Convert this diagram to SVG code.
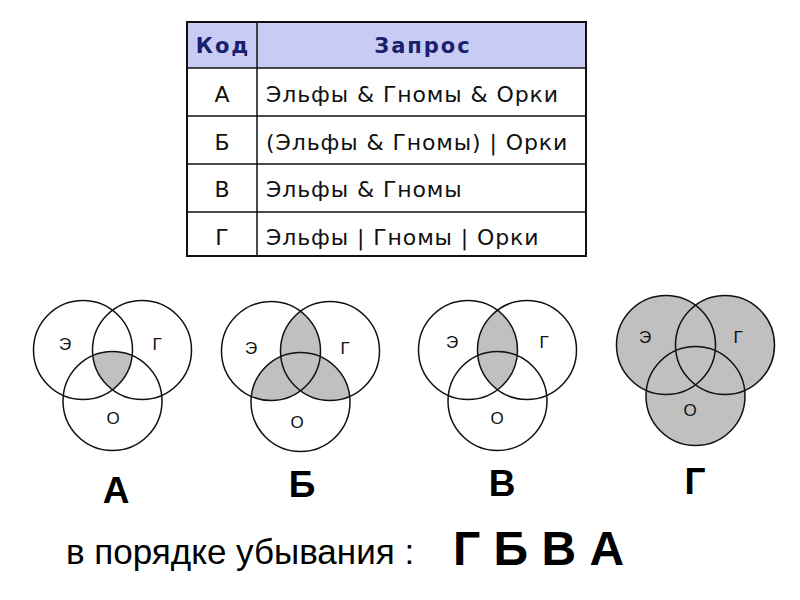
<svg xmlns="http://www.w3.org/2000/svg" width="800" height="600" viewBox="0 0 800 600">
<style>
.hdr{font-family:"DejaVu Sans",Verdana,sans-serif;font-weight:bold;font-size:21px;letter-spacing:2px;fill:#1a1f6e;text-anchor:middle}
.cell{font-family:"DejaVu Sans",Verdana,sans-serif;font-size:22px;letter-spacing:0.9px;fill:#111}
.code{text-anchor:middle;letter-spacing:0}
.grid{stroke:#111;stroke-width:1.5;fill:none}
.ring{fill:none;stroke:#111;stroke-width:1.5}
.shade{fill:#c0c0c0;stroke:none}
.vl{font-family:"Liberation Sans",Arial,sans-serif;font-size:17px;fill:#111;text-anchor:middle}
.big{font-family:"Liberation Sans",Arial,sans-serif;font-weight:bold;font-size:37px;fill:#000;text-anchor:middle}
.foot{font-family:"Liberation Sans",Arial,sans-serif;font-size:35px;fill:#000}
.footb{font-family:"Liberation Sans",Arial,sans-serif;font-weight:bold;font-size:48px;fill:#000}
</style>
<defs>
<clipPath id="cE"><circle cx="0" cy="0" r="49.5"/></clipPath>
<clipPath id="cG"><circle cx="59" cy="0" r="49.5"/></clipPath>
<circle id="rE" cx="0" cy="0" r="49.5"/>
<circle id="rG" cx="59" cy="0" r="49.5"/>
<circle id="rO" cx="29.5" cy="51" r="49.5"/>
</defs>

<g id="table">
<rect x="187" y="22" width="399" height="46" fill="#c8ccf5"/>
<rect x="187" y="22" width="399" height="234" fill="none" stroke="#111" stroke-width="2"/>
<path class="grid" d="M257 22V256M187 68H586M187 116H586M187 164H586M187 212H586"/>
<text class="hdr" x="223" y="53">Код</text>
<text class="hdr" x="423" y="53">Запрос</text>
<text class="cell code" x="222" y="102">А</text>
<text class="cell" x="266" y="102">Эльфы &amp; Гномы &amp; Орки</text>
<text class="cell code" x="222" y="150">Б</text>
<text class="cell" x="266" y="150">(Эльфы &amp; Гномы) | Орки</text>
<text class="cell code" x="222" y="197">В</text>
<text class="cell" x="266" y="197">Эльфы &amp; Гномы</text>
<text class="cell code" x="222" y="245">Г</text>
<text class="cell" x="266" y="245">Эльфы | Гномы | Орки</text>
</g>

<g id="venn-A" transform="translate(83,350)">
<g clip-path="url(#cE)"><g clip-path="url(#cG)"><use href="#rO" class="shade"/></g></g>
<use href="#rE" class="ring"/><use href="#rG" class="ring"/><use href="#rO" class="ring"/>
<text class="vl" x="-18" y="0">Э</text>
<text class="vl" x="74" y="0">Г</text>
<text class="vl" x="30" y="74">О</text>
</g>

<g id="venn-B" transform="translate(271,351)">
<g clip-path="url(#cE)"><use href="#rG" class="shade"/><use href="#rO" class="shade"/></g>
<g clip-path="url(#cG)"><use href="#rO" class="shade"/></g>
<use href="#rE" class="ring"/><use href="#rG" class="ring"/><use href="#rO" class="ring"/>
<text class="vl" x="-20" y="3">Э</text>
<text class="vl" x="74" y="3">Г</text>
<text class="vl" x="26" y="77">О</text>
</g>

<g id="venn-V" transform="translate(468,350)">
<g clip-path="url(#cE)"><use href="#rG" class="shade"/></g>
<use href="#rE" class="ring"/><use href="#rG" class="ring"/><use href="#rO" class="ring"/>
<text class="vl" x="-16" y="-2">Э</text>
<text class="vl" x="76" y="-2">Г</text>
<text class="vl" x="29" y="74">О</text>
</g>

<g id="venn-G" transform="translate(666,345)">
<use href="#rE" class="shade"/><use href="#rG" class="shade"/><use href="#rO" class="shade"/>
<use href="#rE" class="ring"/><use href="#rG" class="ring"/><use href="#rO" class="ring"/>
<text class="vl" x="-21" y="-2">Э</text>
<text class="vl" x="72" y="-2">Г</text>
<text class="vl" x="24" y="71">О</text>
</g>

<g id="labels">
<text class="big" x="116" y="503">А</text>
<text class="big" x="302" y="497">Б</text>
<text class="big" x="502" y="496">В</text>
<text class="big" x="695" y="494">Г</text>
</g>

<g id="answer">
<text class="foot" x="66" y="564">в порядке убывания :</text>
<text class="footb" x="453" y="565">Г Б В А</text>
</g>
</svg>
